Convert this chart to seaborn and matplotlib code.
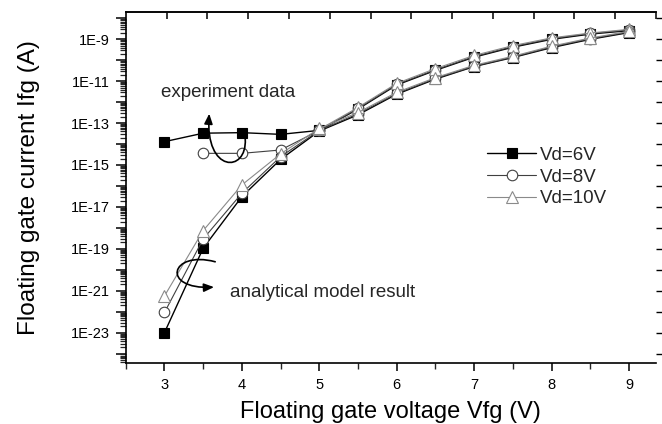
import numpy as np
import pandas as pd
import matplotlib
matplotlib.use("Agg")
import matplotlib.pyplot as plt
import seaborn as sns
from matplotlib.ticker import LogLocator, FuncFormatter, MultipleLocator, NullFormatter, FixedLocator, NullLocator
from matplotlib.patches import FancyArrowPatch
from matplotlib.path import Path

sns.set_theme(style="ticks")
plt.rcParams["font.family"] = ["Liberation Sans", "DejaVu Sans"]

# ---------------- data ----------------
vfg_full = [3.0, 3.5, 4.0, 4.5, 5.0, 5.5, 6.0, 6.5, 7.0, 7.5, 8.0, 8.5, 9.0]
vfg_exp8 = [3.5, 4.0, 4.5, 5.0, 5.5, 6.0, 6.5, 7.0, 7.5, 8.0, 8.5, 9.0]
vfg_exp10 = [5.0, 5.5, 6.0, 6.5, 7.0, 7.5, 8.0, 8.5, 9.0]

exp_vd6 = [1.3e-14, 3.3e-14, 3.5e-14, 2.9e-14, 4.5e-14, 4.7e-13, 6.6e-12,
           3.3e-11, 1.41e-10, 4.2e-10, 1.0e-9, 1.78e-9, 2.6e-9]
exp_vd8 = [3.6e-15, 3.6e-15, 5.2e-15, 4.5e-14, 5.0e-13, 7.1e-12,
           3.5e-11, 1.5e-10, 4.5e-10, 1.07e-9, 1.9e-9, 2.8e-9]
exp_vd10 = [5.0e-14, 5.6e-13, 7.9e-12, 4.0e-11, 1.7e-10, 5.0e-10,
            1.17e-9, 2.0e-9, 3.0e-9]

model_vd6 = [1.0e-23, 1.07e-19, 3.1e-17, 1.86e-15, 4.2e-14, 2.5e-13, 2.4e-12,
             1.26e-11, 5.0e-11, 1.35e-10, 4.0e-10, 1.0e-9, 2.1e-9]
model_vd8 = [9.1e-23, 2.95e-19, 4.5e-17, 2.5e-15, 4.5e-14, 2.8e-13, 2.6e-12,
             1.35e-11, 5.2e-11, 1.41e-10, 4.3e-10, 1.07e-9, 2.24e-9]
model_vd10 = [5.6e-22, 7.4e-19, 1.12e-16, 3.4e-15, 5.6e-14, 3.2e-13, 2.95e-12,
              1.48e-11, 5.75e-11, 1.55e-10, 4.7e-10, 1.15e-9, 2.4e-9]

labels = ["Vd=6V", "Vd=8V", "Vd=10V"]
x_ticks = [3, 4, 5, 6, 7, 8, 9]

# ---------------- figure ----------------
fig = plt.figure(figsize=(6.62, 4.24), dpi=100)
ax = fig.add_axes([0.190, 0.144, 0.801, 0.827])
ax.set_yscale("log")

styles = [
    dict(color="black", linewidth=1.0, marker="s", markersize=7.2,
         markerfacecolor="black", markeredgecolor="black", markeredgewidth=0.8),
    dict(color="#404040", linewidth=0.8, marker="o", markersize=7.6,
         markerfacecolor="white", markeredgecolor="#404040", markeredgewidth=0.8),
    dict(color="#8a8a8a", linewidth=0.8, marker="^", markersize=8.2,
         markerfacecolor="white", markeredgecolor="#8a8a8a", markeredgewidth=0.8),
]

exp_sets = [(vfg_full, exp_vd6), (vfg_exp8, exp_vd8), (vfg_exp10, exp_vd10)]
model_sets = [(vfg_full, model_vd6), (vfg_full, model_vd8), (vfg_full, model_vd10)]

handles = []
for i in range(3):
    xs, ys = exp_sets[i]
    sns.lineplot(x=xs, y=ys, ax=ax, estimator=None, sort=False,
                 zorder=3 + i, label="_nolegend_", **styles[i])
    xs, ys = model_sets[i]
    sns.lineplot(x=xs, y=ys, ax=ax, estimator=None, sort=False,
                 zorder=3 + i, label=labels[i], **styles[i])
    handles.append(ax.lines[-1])

xmax = 9.35
ax.set_xlim(2.5, xmax)
ax.set_ylim(10 ** -24.45, 10 ** -7.71)

# spines
for s in ["left", "bottom", "top"]:
    ax.spines[s].set_linewidth(1.2)
    ax.spines[s].set_color("black")
ax.spines["right"].set_visible(False)

# x ticks
ax.xaxis.set_major_locator(FixedLocator(x_ticks))
ax.xaxis.set_minor_locator(MultipleLocator(0.5))
ax.tick_params(axis="x", which="major", direction="out", length=6, width=1.1,
               labelsize=10.5, pad=5, top=False, colors="black")
ax.tick_params(axis="x", which="minor", direction="out", length=4, width=1.0, top=False)

# y ticks
ax.yaxis.set_major_locator(LogLocator(base=10, numticks=40))
ax.yaxis.set_minor_locator(LogLocator(base=10, subs=np.arange(2, 10), numticks=40))
ax.yaxis.set_minor_formatter(NullFormatter())


def yfmt(v, _):
    e = int(round(np.log10(v)))
    return f"1E{e}" if e % 2 != 0 else ""


ax.yaxis.set_major_formatter(FuncFormatter(yfmt))
ax.tick_params(axis="y", which="major", direction="out", length=7, width=1.1,
               labelsize=10.5, pad=4.5, right=False, colors="black")
ax.tick_params(axis="y", which="minor", direction="out", length=4, width=0.9, right=False)

# right ticks (decades, no labels)
sec_r = ax.secondary_yaxis("right")
sec_r.spines["right"].set_visible(False)
sec_r.yaxis.set_major_locator(LogLocator(base=10, numticks=40))
sec_r.yaxis.set_minor_locator(NullLocator())
sec_r.yaxis.set_major_formatter(NullFormatter())
sec_r.tick_params(axis="y", which="major", direction="out", length=4, width=1.0, colors="black")

# top ticks (inward)
span = xmax - 2.5


def fwd(x):
    return 2.5 + (np.asarray(x) - 2.5) * 6.5 / span


def inv(t):
    return 2.5 + (np.asarray(t) - 2.5) * span / 6.5


sec_t = ax.secondary_xaxis("top", functions=(fwd, inv))
sec_t.spines["top"].set_linewidth(1.2)
sec_t.xaxis.set_major_locator(FixedLocator(np.arange(3.0, 9.01, 0.5)))
sec_t.xaxis.set_minor_locator(NullLocator())
sec_t.xaxis.set_major_formatter(NullFormatter())
sec_t.tick_params(axis="x", which="major", direction="in", length=5, width=1.1, colors="black")

# labels
ax.set_xlabel("Floating gate voltage Vfg (V)", fontsize=17, labelpad=6, color="black")
ax.set_ylabel("Floating gate current Ifg (A)", fontsize=17.5, labelpad=22, color="black")

# legend
leg = ax.legend(handles=handles, labels=labels, loc="upper left",
                bbox_to_anchor=(0.682, 0.617), frameon=False, fontsize=13.5,
                handlelength=2.6, handletextpad=0.2, labelspacing=0.25,
                borderpad=0, borderaxespad=0)

# annotations
ax.text(2.953, 10 ** -11.56, "experiment data", fontsize=13.5, ha="left", va="center")
ax.text(3.85, 10 ** -21.1, "analytical model result", fontsize=13.5, ha="left", va="center")

exp_path = Path([(4.043, 10 ** -13.76), (4.07, 10 ** -15.4), (3.52, 10 ** -15.4), (3.578, 10 ** -12.55)],
                [Path.MOVETO, Path.CURVE4, Path.CURVE4, Path.CURVE4])
ax.add_patch(FancyArrowPatch(path=exp_path, arrowstyle="-|>,head_length=6,head_width=2.5",
                             color="black", linewidth=1.2, transform=ax.transData, zorder=8))

mod_path = Path([(3.655, 10 ** -19.62), (3.075, 10 ** -19.05), (2.945, 10 ** -20.96), (3.64, 10 ** -20.83)],
                [Path.MOVETO, Path.CURVE4, Path.CURVE4, Path.CURVE4])
ax.add_patch(FancyArrowPatch(path=mod_path, arrowstyle="-|>,head_length=6,head_width=2.5",
                             color="black", linewidth=1.2, transform=ax.transData, zorder=8))

fig.savefig("out.png", dpi=100, facecolor="white")
